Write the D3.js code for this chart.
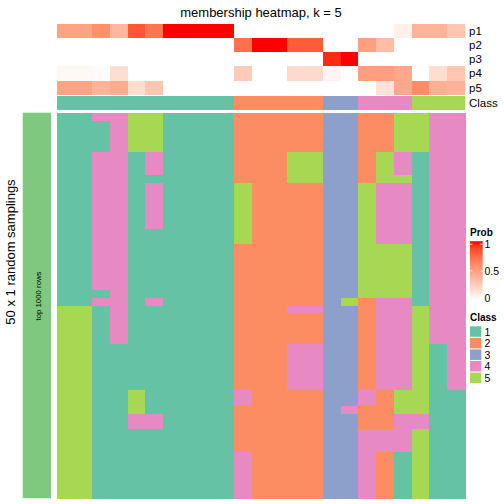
<!DOCTYPE html>
<html>
<head>
<meta charset="utf-8">
<script src="https://cdn.jsdelivr.net/npm/d3@7"></script>
<style>
  html, body { margin: 0; padding: 0; background: #fff; }
  svg { display: block; font-family: "Liberation Sans", Arial, Helvetica, sans-serif; }
</style>
</head>
<body>
<svg id="chart" width="504" height="504"></svg>
<script>
// ---------------- data ----------------
const title = "membership heatmap, k = 5";
const probRows = ["p1", "p2", "p3", "p4", "p5"];
const classKeys = ["1", "2", "3", "4", "5"];
const classColors = ["#66C2A5", "#FC8D62", "#8DA0CB", "#E78AC3", "#A6D854"];
const leftBarColor = "#7FC97F";
const leftTitle = "50 x 1 random samplings";
const leftBarLabel = "top 1000 rows";
const probTicks = [0, 0.5, 1];

// per-column consensus class (23 samples)
const sampleClass = [1,1,1,1,1,1,1,1,1,1, 2,2,2,2,2, 3,3, 4,4,4, 5,5,5];

// membership probabilities per sample (columns)
const p1 = [0.48,0.48,0.58,0.38,0.82,0.70,1,1,1,1, 0,0,0,0,0, 0,0, 0,0,0.08, 0.40,0.40,0.30];
const p2 = [0,0,0,0,0,0,0,0,0,0, 0.72,1,1,0.80,0.80, 0,0, 0.50,0.35,0, 0,0,0];
const p3 = [0,0,0,0,0,0,0,0,0,0, 0,0,0,0,0, 0.95,1, 0,0,0, 0,0,0];
const p4 = [0.04,0.04,0.02,0.18,0,0,0,0,0,0, 0.28,0,0,0.20,0.20, 0.05,0, 0.50,0.50,0.46, 0,0.18,0.30];
const p5 = [0.48,0.48,0.40,0.44,0.18,0.30,0,0,0,0, 0,0,0,0,0, 0,0, 0,0.15,0.46, 0.60,0.42,0.40];

// class assignment of each of the 50 random samplings (rows) per sample (column)
const samplingsByColumn = [
  "1111111111 1111111111 1111155555 5555555555 5555555555",
  "1111111111 1111111111 1111155555 5555555555 5555555555",
  "4111144444 4444444444 4441411111 1111111111 1111111111",
  "4444444444 4444444444 4444444444 1111111111 1111111111",
  "5555511111 1111111111 1111111111 1111115554 4111111111",
  "5555544414 4444411111 1111411111 1111111114 4111111111",
  "1111111111 1111111111 1111111111 1111111111 1111111111",
  "1111111111 1111111111 1111111111 1111111111 1111111111",
  "1111111111 1111111111 1111111111 1111111111 1111111111",
  "1111111111 1111111111 1111111111 1111111111 1111111111",
  "2222222225 5555555222 2222222222 2222224422 2222444444",
  "2222222222 2222222222 2222222222 2222222222 2222222222",
  "2222222222 2222222222 2222222222 2222222222 2222222222",
  "2222255552 2222222222 2222242222 4444442222 2222222222",
  "2222255552 2222222222 2222242222 4444442222 2222222222",
  "3333333333 3333333333 3333333333 3333333333 3333333333",
  "3333333333 3333333333 3333533333 3333333343 3333333333",
  "2222222225 5555555555 5555222222 2222224422 2444444444",
  "2222255554 4444444555 5555444444 4444442222 2444222222",
  "5555544454 4444444555 5555444444 4444445554 4444111111",
  "5555511111 1111111111 1111155555 5555555554 4555555555",
  "4444444444 4444444444 4444444444 1111111111 1111111111",
  "4444444444 4444444444 4444444444 4444441111 1111111111"
];

// ---------------- drawing ----------------
const svg = d3.select("#chart");
const nCols = sampleClass.length;
const cols = samplingsByColumn.map(s => s.replace(/ /g, ""));
const nRows = cols[0].length;

const x = d3.scaleBand().domain(d3.range(nCols)).range([56.7, 465]).padding(0);
const yP = d3.scaleBand().domain(probRows).range([24, 94.7]).padding(0);
const yRow = d3.scaleBand().domain(d3.range(nRows)).range([113.3, 498.2]).padding(0);
const classY = [95.7, 109.7];

const probColor = d3.scaleLinear().domain([0, 1]).range(["#ffffff", "#ff0000"]).interpolate(d3.interpolateLab);
const classColor = d3.scaleOrdinal().domain(classKeys).range(classColors);

// title
svg.append("text")
  .attr("x", 261).attr("y", 17)
  .attr("text-anchor", "middle")
  .attr("font-size", 13)
  .attr("fill", "#000")
  .text(title);

// probability annotation rows
const probData = [p1, p2, p3, p4, p5];
const gP = svg.append("g").attr("shape-rendering", "crispEdges");
probRows.forEach((name, ri) => {
  gP.selectAll(null)
    .data(probData[ri])
    .join("rect")
    .attr("x", (d, i) => x(i))
    .attr("y", yP(name))
    .attr("width", x.bandwidth())
    .attr("height", yP.bandwidth())
    .attr("fill", d => probColor(d));
});

// class annotation row
gP.selectAll(null)
  .data(sampleClass)
  .join("rect")
  .attr("x", (d, i) => x(i))
  .attr("y", classY[0])
  .attr("width", x.bandwidth())
  .attr("height", classY[1] - classY[0])
  .attr("fill", d => classColor(String(d)));

// annotation labels
const labelFont = 11.5;
probRows.forEach(name => {
  svg.append("text")
    .attr("x", 469).attr("y", yP(name) + yP.bandwidth() / 2)
    .attr("dominant-baseline", "central")
    .attr("font-size", labelFont)
    .text(name);
});
svg.append("text")
  .attr("x", 469).attr("y", (classY[0] + classY[1]) / 2)
  .attr("dominant-baseline", "central")
  .attr("font-size", labelFont)
  .text("Class");

// main heatmap
const cells = [];
cols.forEach((s, ci) => {
  for (let r = 0; r < s.length; r++) cells.push({ c: ci, r: r, k: s[r] });
});
svg.append("g").attr("shape-rendering", "crispEdges")
  .selectAll("rect")
  .data(cells)
  .join("rect")
  .attr("x", d => x(d.c))
  .attr("y", d => yRow(d.r))
  .attr("width", x.bandwidth() + 0.5)
  .attr("height", yRow.bandwidth() + 0.5)
  .attr("fill", d => classColor(d.k));

// left bar
svg.append("rect")
  .attr("x", 22.7).attr("y", 112.7)
  .attr("width", 28.3).attr("height", 498.2 - 112.7)
  .attr("fill", leftBarColor);
svg.append("text")
  .attr("transform", "translate(38.6,296) rotate(-90)")
  .attr("text-anchor", "middle")
  .attr("dominant-baseline", "central")
  .attr("font-size", 7.8)
  .text(leftBarLabel);
svg.append("text")
  .attr("transform", "translate(10.5,252) rotate(-90)")
  .attr("text-anchor", "middle")
  .attr("dominant-baseline", "central")
  .attr("font-size", 13)
  .text(leftTitle);

// Prob legend
const lgX = 470, lgW = 12.7, lgTop = 241.2, lgBot = 300.5;
const defs = svg.append("defs");
const grad = defs.append("linearGradient").attr("id", "probGrad")
  .attr("x1", 0).attr("y1", 1).attr("x2", 0).attr("y2", 0);
d3.range(0, 1.0001, 0.1).forEach(t => {
  grad.append("stop").attr("offset", t).attr("stop-color", probColor(t));
});
svg.append("text")
  .attr("x", lgX).attr("y", 235.5)
  .attr("font-size", 10).attr("font-weight", "bold")
  .text("Prob");
svg.append("rect")
  .attr("x", lgX).attr("y", lgTop).attr("width", lgW).attr("height", lgBot - lgTop)
  .attr("fill", "url(#probGrad)");
const yLeg = d3.scaleLinear().domain([0, 1]).range([lgBot - 3, lgTop + 3]);
probTicks.forEach(t => {
  const yy = yLeg(t);
  svg.append("line").attr("x1", lgX).attr("x2", lgX + 2.5).attr("y1", yy).attr("y2", yy)
    .attr("stroke", "#fff").attr("stroke-width", 0.8);
  svg.append("line").attr("x1", lgX + lgW - 2.5).attr("x2", lgX + lgW).attr("y1", yy).attr("y2", yy)
    .attr("stroke", "#fff").attr("stroke-width", 0.8);
  svg.append("text")
    .attr("x", 484.5).attr("y", yy)
    .attr("dominant-baseline", "central")
    .attr("font-size", 10.5)
    .text(t === 0.5 ? "0.5" : String(t));
});

// Class legend
svg.append("text")
  .attr("x", lgX).attr("y", 321)
  .attr("font-size", 10).attr("font-weight", "bold")
  .text("Class");
const yCl = d3.scaleBand().domain(classKeys).range([326.3, 326.3 + 5 * 11.35]).paddingInner(0.09);
classKeys.forEach(k => {
  svg.append("rect")
    .attr("x", lgX).attr("y", yCl(k))
    .attr("width", 11.3).attr("height", yCl.bandwidth())
    .attr("fill", classColor(k));
  svg.append("text")
    .attr("x", 484.5).attr("y", yCl(k) + yCl.bandwidth() / 2)
    .attr("dominant-baseline", "central")
    .attr("font-size", 10.5)
    .text(k);
});
</script>
</body>
</html>
